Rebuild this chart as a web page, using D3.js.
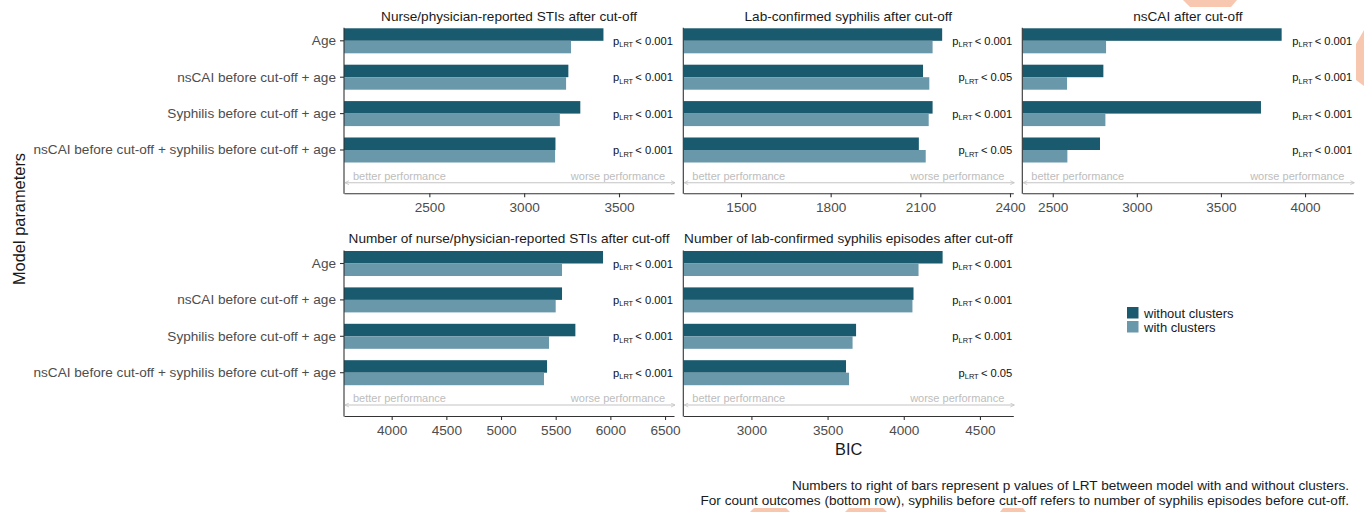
<!DOCTYPE html>
<html><head><meta charset="utf-8">
<script src="https://cdn.jsdelivr.net/npm/d3@7"></script>
<style>
html,body{margin:0;padding:0;background:#fff;}
svg{display:block;font-family:"Liberation Sans",Arial,Helvetica,sans-serif;}
</style></head><body>
<svg id="chart" width="1364" height="512"></svg>
<script>
// ---- data ----
const categories = [
  "Age",
  "nsCAI before cut-off + age",
  "Syphilis before cut-off + age",
  "nsCAI before cut-off + syphilis before cut-off + age"
];
const seriesNames = ["without clusters", "with clusters"];
const panelTitles = [
  "Nurse/physician-reported STIs after cut-off",
  "Lab-confirmed syphilis after cut-off",
  "nsCAI after cut-off",
  "Number of nurse/physician-reported STIs after cut-off",
  "Number of lab-confirmed syphilis episodes after cut-off"
];
// BIC per panel, in category order
const bicWithoutClusters = [
  [3418, 3233, 3296, 3165],
  [2173, 2109, 2141, 2095],
  [3861, 2801, 3738, 2781],
  [5933, 5558, 5680, 5421],
  [4255, 4064, 3687, 3621]
];
const bicWithClusters = [
  [3247, 3221, 3188, 3163],
  [2141, 2130, 2128, 2118],
  [2817, 2585, 2813, 2587],
  [5558, 5500, 5439, 5393],
  [4097, 4057, 3664, 3641]
];
// LRT p-value thresholds per panel, in category order
const pLrtThresholds = [
  ["0.001", "0.001", "0.001", "0.001"],
  ["0.001", "0.05", "0.001", "0.05"],
  ["0.001", "0.001", "0.001", "0.001"],
  ["0.001", "0.001", "0.001", "0.001"],
  ["0.001", "0.001", "0.001", "0.05"]
];
const xTickValues = [
  [2500, 3000, 3500],
  [1500, 1800, 2100, 2400],
  [2500, 3000, 3500, 4000],
  [4000, 4500, 5000, 5500, 6000, 6500],
  [3000, 3500, 4000, 4500]
];
const xLimits = [
  [2050, 3790],
  [1307, 2411],
  [2319, 4287],
  [3564, 6582],
  [2553, 4719]
];
const arrowLabels = ["better performance", "worse performance"];
const footnotes = [
  "Numbers to right of bars represent p values of LRT between model with and without clusters.",
  "For count outcomes (bottom row), syphilis before cut-off refers to number of syphilis episodes before cut-off."
];

// ---- layout ----
const colors = {"without clusters": "#195a6e", "with clusters": "#6a98ab"};
const columns = [[344, 674], [683.3, 1013.3], [1022.3, 1353.3]];
const rows = [
  {bandTop: 22.6, axisY: 193.3, arrowY: 182.7, titleY: 20.6},
  {bandTop: 245.3, axisY: 416, arrowY: 405, titleY: 242.6}
];
const panelCells = [[0, 0], [1, 0], [2, 0], [0, 1], [1, 1]];
const bandSpan = 145.6;
const fs = 13.6;

const svg = d3.select("#chart");
const defs = svg.append("defs");

// small open arrowheads for the performance guide
defs.append("marker").attr("id", "arrowEnd")
  .attr("viewBox", "0 0 10 10").attr("refX", 9).attr("refY", 5)
  .attr("markerWidth", 5).attr("markerHeight", 5).attr("orient", "auto-start-reverse")
  .attr("markerUnits", "userSpaceOnUse")
  .append("path").attr("d", "M1,1 L9,5 L1,9").attr("fill", "none")
  .attr("stroke", "#c4c4c4").attr("stroke-width", 1.6);

panelCells.forEach(([c, r], i) => {
  const [x0, x1] = columns[c];
  const row = rows[r];
  const x = d3.scaleLinear().domain(xLimits[i]).range([x0, x1]);
  const y = d3.scaleBand().domain(categories)
    .range([row.bandTop, row.bandTop + bandSpan])
    .paddingInner(0.313).paddingOuter(0.1565);
  const ySub = d3.scaleBand().domain(seriesNames).range([0, y.bandwidth()]);

  const g = svg.append("g");
  const clipId = "clip" + i;
  defs.append("clipPath").attr("id", clipId).append("rect")
    .attr("x", x0).attr("y", row.bandTop - 10)
    .attr("width", x1 - x0).attr("height", row.axisY - row.bandTop + 10);

  // bars
  const records = [];
  categories.forEach((cat, k) => {
    records.push({cat, series: seriesNames[0], value: bicWithoutClusters[i][k]});
    records.push({cat, series: seriesNames[1], value: bicWithClusters[i][k]});
  });
  g.append("g").attr("clip-path", `url(#${clipId})`)
    .selectAll("rect").data(records).join("rect")
    .attr("x", x.range()[0])
    .attr("y", d => y(d.cat) + ySub(d.series))
    .attr("width", d => Math.max(0, x(d.value) - x.range()[0]))
    .attr("height", ySub.bandwidth())
    .attr("fill", d => colors[d.series]);

  // p-value labels
  const pl = g.append("g").selectAll("text").data(categories).join("text")
    .attr("x", x1 - 1)
    .attr("y", d => y(d) + y.bandwidth() / 2 + 4)
    .attr("text-anchor", "end")
    .attr("font-size", 11.2)
    .attr("fill", "#111");
  pl.append("tspan").text("p");
  pl.append("tspan").attr("font-size", 7.4).attr("dy", 2.5).text("LRT");
  pl.append("tspan").attr("dy", -2.5).text((d, k) => "\u2009< " + pLrtThresholds[i][k]);

  // performance guide arrow
  g.append("line")
    .attr("x1", x0 + 1).attr("x2", x1 + 1)
    .attr("y1", row.arrowY).attr("y2", row.arrowY)
    .attr("stroke", "#c4c4c4").attr("stroke-width", 1.1)
    .attr("marker-start", "url(#arrowEnd)").attr("marker-end", "url(#arrowEnd)");
  g.append("text").attr("x", x0 + 9).attr("y", row.arrowY - 3)
    .attr("font-size", 11).attr("fill", "#bdbdbd").text(arrowLabels[0]);
  g.append("text").attr("x", x1 - 9).attr("y", row.arrowY - 3)
    .attr("text-anchor", "end")
    .attr("font-size", 11).attr("fill", "#bdbdbd").text(arrowLabels[1]);

  // x axis
  const xa = g.append("g").attr("transform", `translate(0,${row.axisY})`)
    .call(d3.axisBottom(x).tickValues(xTickValues[i]).tickSize(4).tickPadding(5).tickSizeOuter(0).tickFormat(d3.format("d")));
  xa.select(".domain").attr("stroke", "#333").attr("stroke-width", 1.1);
  xa.selectAll(".tick line").attr("stroke", "#333").attr("stroke-width", 1.1);
  xa.selectAll(".tick text").attr("font-size", fs).attr("fill", "#4d4d4d")
    .attr("font-family", "Liberation Sans, Arial, sans-serif");

  // y axis (labels only in the first column)
  const yTop = y(categories[0]) - 0.5;
  if (c === 0) {
    const ya = g.append("g").attr("transform", `translate(${x0},0)`)
      .call(d3.axisLeft(y).tickSize(4).tickPadding(4).tickSizeOuter(0));
    ya.select(".domain").remove();
    ya.selectAll(".tick line").attr("stroke", "#333").attr("stroke-width", 1.1);
    ya.selectAll(".tick text").attr("font-size", fs).attr("fill", "#4d4d4d")
      .attr("font-family", "Liberation Sans, Arial, sans-serif");
  }
  g.append("line").attr("x1", x0).attr("x2", x0)
    .attr("y1", yTop).attr("y2", row.axisY + 0.55)
    .attr("stroke", "#333").attr("stroke-width", 1.1);

  // panel title
  g.append("text").attr("x", (x0 + x1) / 2).attr("y", row.titleY)
    .attr("text-anchor", "middle").attr("font-size", fs).attr("fill", "#1a1a1a")
    .text(panelTitles[i]);
});

// shared axis titles
svg.append("text").attr("transform", "translate(25,219) rotate(-90)")
  .attr("text-anchor", "middle").attr("font-size", 16.4).attr("fill", "#1a1a1a")
  .text("Model parameters");
svg.append("text").attr("x", (columns[0][0] + columns[2][1]) / 2).attr("y", 455)
  .attr("text-anchor", "middle").attr("font-size", 16.4).attr("fill", "#1a1a1a")
  .text("BIC");

// legend
const legend = svg.append("g").attr("transform", "translate(1127,307)");
const lg = legend.selectAll("g").data(seriesNames).join("g")
  .attr("transform", (d, k) => `translate(0,${k * 14})`);
lg.append("rect").attr("width", 11.5).attr("height", 11.5).attr("fill", d => colors[d]);
lg.append("text").attr("x", 17).attr("y", 10.5).attr("font-size", 13).attr("fill", "#1a1a1a").text(d => d);

// caption
svg.append("g").selectAll("text").data(footnotes).join("text")
  .attr("x", 1349).attr("y", (d, k) => 489.5 + k * 15)
  .attr("text-anchor", "end").attr("font-size", 13.6).attr("fill", "#1a1a1a")
  .text(d => d);

// soft corner accents
const accents = [
  [[1183, 0], [1237, 0], [1231, 7], [1190, 7]],
  [[1364, 30], [1356, 44], [1356, 80], [1364, 86]],
  [[750, 512], [754, 508], [786, 508], [790, 512]],
  [[845, 512], [849, 508], [883, 508], [887, 512]],
  [[1000, 512], [1003, 508], [1023, 508], [1026, 512]]
];
svg.append("g").selectAll("path").data(accents).join("path")
  .attr("d", d => d3.line()(d) + "Z").attr("fill", "#f8c7b0");
</script>
</body></html>
